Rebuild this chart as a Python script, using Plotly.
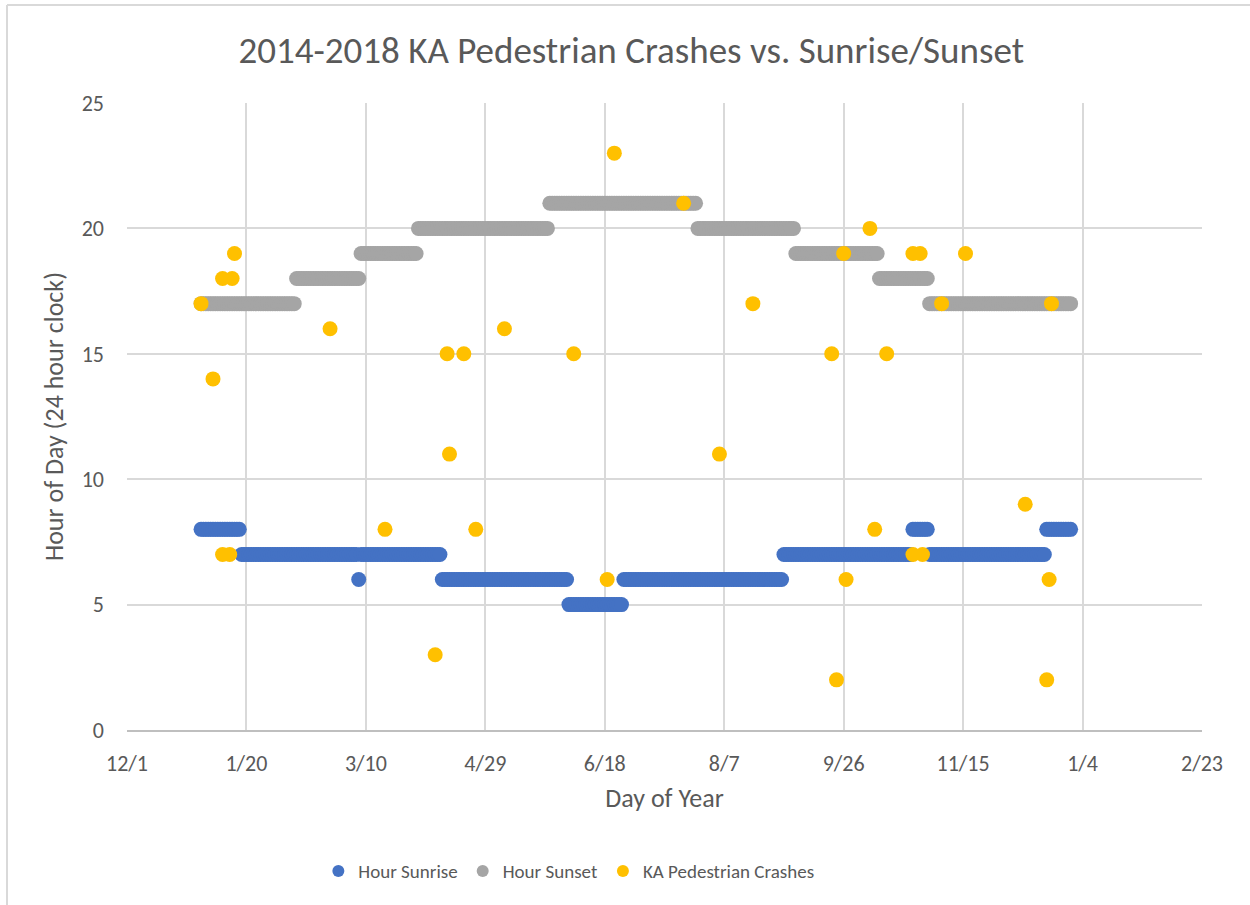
import plotly.graph_objects as go

# ---- Data ----
# Day of year (Excel serial day numbers, 1 = Jan 1)
days = list(range(1, 366))

# Hour of sunrise, as runs: (last day of run, hour)
sunrise_run_end = [17, 66, 67, 101, 154, 177, 244, 298, 305, 354, 365]
sunrise_run_hour = [8, 7, 6, 7, 6, 5, 6, 7, 8, 7, 8]

# Hour of sunset, as runs: (last day of run, hour)
sunset_run_end = [40, 67, 91, 146, 208, 249, 284, 305, 365]
sunset_run_hour = [17, 18, 19, 20, 21, 20, 19, 18, 17]

# KA pedestrian crashes: day of year and hour of day
crash_day = [1, 6, 10, 14, 15, 10, 13, 55, 78, 99, 104, 105, 111, 116, 128, 157,
             171, 174, 203, 218, 232, 265, 267, 270, 271, 281, 283, 288, 299, 302,
             299, 303, 311, 321, 346, 355, 356, 357]
crash_hour = [17, 14, 18, 18, 19, 7, 7, 16, 8, 3, 15, 11, 15, 8, 16, 15,
              6, 23, 21, 11, 17, 15, 2, 19, 6, 20, 8, 15, 19, 19,
              7, 7, 17, 19, 9, 2, 6, 17]

# Axis ticks
x_tick_vals = [-30, 20, 70, 120, 170, 220, 270, 320, 370, 420]
x_tick_text = ["12/1", "1/20", "3/10", "4/29", "6/18", "8/7", "9/26", "11/15", "1/4", "2/23"]
y_tick_vals = [0, 5, 10, 15, 20, 25]


def expand_runs(ends, hours):
    out = []
    start = 1
    for e, h in zip(ends, hours):
        out.extend([h] * (e - start + 1))
        start = e + 1
    return out


sunrise_hour = expand_runs(sunrise_run_end, sunrise_run_hour)
sunset_hour = expand_runs(sunset_run_end, sunset_run_hour)

FONT = "Carlito, Calibri, Lato, sans-serif"
TXT = "#595959"
GRID = "#D9D9D9"

fig = go.Figure()
fig.add_trace(go.Scatter(x=days, y=sunrise_hour, mode="markers", name="Hour Sunrise",
                         marker=dict(color="#4472C4", size=15, line=dict(width=0))))
fig.add_trace(go.Scatter(x=days, y=sunset_hour, mode="markers", name="Hour Sunset",
                         marker=dict(color="#A5A5A5", size=15, line=dict(width=0))))
fig.add_trace(go.Scatter(x=crash_day, y=crash_hour, mode="markers", name="KA Pedestrian Crashes",
                         marker=dict(color="#FFC000", size=15, line=dict(width=0))))

fig.update_layout(
    width=1250, height=905,
    margin=dict(l=127, r=48, t=103, b=175),
    paper_bgcolor="white", plot_bgcolor="white",
    font=dict(family=FONT, color=TXT, size=20),
    title=dict(text="2014-2018 KA Pedestrian Crashes vs. Sunrise/Sunset",
               x=0.505, xref="container", xanchor="center",
               y=1 - 50 / 905, yref="container", yanchor="middle",
               font=dict(family=FONT, size=37, color=TXT)),
    showlegend=True,
    legend=dict(orientation="h", x=0.178, xanchor="left", y=-0.225, yanchor="middle",
                font=dict(family=FONT, size=19, color=TXT), itemsizing="constant"),
    xaxis=dict(range=[-30, 420], tickvals=x_tick_vals, ticktext=x_tick_text,
               showgrid=True, gridcolor=GRID, gridwidth=2,
               showline=True, linecolor="#BFBFBF", linewidth=2,
               zeroline=False, ticks="", ticklabelstandoff=13,
               tickfont=dict(size=22, color=TXT),
               title=dict(text="Day of Year", standoff=12, font=dict(size=26, color=TXT))),
    yaxis=dict(range=[0, 25], tickvals=y_tick_vals,
               showgrid=True, gridcolor=GRID, gridwidth=2,
               showline=False, zeroline=False, ticks="", ticklabelstandoff=22,
               tickfont=dict(size=22, color=TXT),
               title=dict(text="Hour of Day (24 hour clock)", standoff=10,
                          font=dict(size=26, color=TXT))),
)

# outer chart border (left and top edges visible in the reference)
bx = (7 - 127) / 1075
by = (730 - 5) / 627
fig.add_shape(type="line", xref="paper", yref="paper", x0=bx, x1=bx, y0=-0.3, y1=by,
              line=dict(color=GRID, width=2), layer="below")
fig.add_shape(type="line", xref="paper", yref="paper", x0=bx, x1=1.1, y0=by, y1=by,
              line=dict(color=GRID, width=2), layer="below")

fig.write_html("out.html", config={"displayModeBar": False},
               post_script="document.body.style.margin='0px';")
